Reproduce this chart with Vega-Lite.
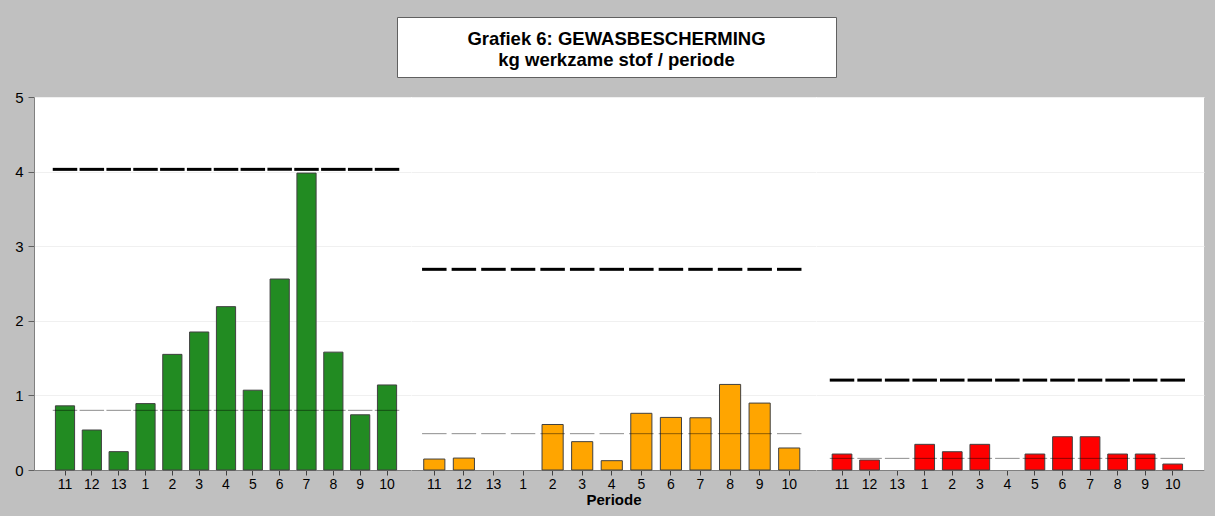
{
  "$schema": "https://vega.github.io/schema/vega-lite/v6.json",
  "background": "#c0c0c0",
  "padding": {"left": 14, "top": 16, "right": 12, "bottom": 9},
  "config": {
    "view": {"stroke": null},
    "font": "Liberation Sans",
    "axis": {"labelFont": "Liberation Sans", "titleFont": "Liberation Sans"}
  },
  "datasets": {
    "groen": [
      {"periode": "11", "waarde": 0.86, "gem": 0.80, "max": 4.03},
      {"periode": "12", "waarde": 0.536, "gem": 0.80, "max": 4.03},
      {"periode": "13", "waarde": 0.246, "gem": 0.80, "max": 4.03},
      {"periode": "1", "waarde": 0.89, "gem": 0.80, "max": 4.03},
      {"periode": "2", "waarde": 1.55, "gem": 0.80, "max": 4.03},
      {"periode": "3", "waarde": 1.85, "gem": 0.80, "max": 4.03},
      {"periode": "4", "waarde": 2.19, "gem": 0.80, "max": 4.03},
      {"periode": "5", "waarde": 1.07, "gem": 0.80, "max": 4.03},
      {"periode": "6", "waarde": 2.56, "gem": 0.80, "max": 4.03},
      {"periode": "7", "waarde": 3.98, "gem": 0.80, "max": 4.03},
      {"periode": "8", "waarde": 1.58, "gem": 0.80, "max": 4.03},
      {"periode": "9", "waarde": 0.74, "gem": 0.80, "max": 4.03},
      {"periode": "10", "waarde": 1.14, "gem": 0.80, "max": 4.03}
    ],
    "oranje": [
      {"periode": "11", "waarde": 0.147, "gem": 0.487, "max": 2.69},
      {"periode": "12", "waarde": 0.16, "gem": 0.487, "max": 2.69},
      {"periode": "13", "waarde": 0, "gem": 0.487, "max": 2.69},
      {"periode": "1", "waarde": 0, "gem": 0.487, "max": 2.69},
      {"periode": "2", "waarde": 0.61, "gem": 0.487, "max": 2.69},
      {"periode": "3", "waarde": 0.38, "gem": 0.487, "max": 2.69},
      {"periode": "4", "waarde": 0.125, "gem": 0.487, "max": 2.69},
      {"periode": "5", "waarde": 0.76, "gem": 0.487, "max": 2.69},
      {"periode": "6", "waarde": 0.705, "gem": 0.487, "max": 2.69},
      {"periode": "7", "waarde": 0.70, "gem": 0.487, "max": 2.69},
      {"periode": "8", "waarde": 1.147, "gem": 0.487, "max": 2.69},
      {"periode": "9", "waarde": 0.897, "gem": 0.487, "max": 2.69},
      {"periode": "10", "waarde": 0.295, "gem": 0.487, "max": 2.69}
    ],
    "rood": [
      {"periode": "11", "waarde": 0.214, "gem": 0.156, "max": 1.205},
      {"periode": "12", "waarde": 0.134, "gem": 0.156, "max": 1.205},
      {"periode": "13", "waarde": 0, "gem": 0.156, "max": 1.205},
      {"periode": "1", "waarde": 0.344, "gem": 0.156, "max": 1.205},
      {"periode": "2", "waarde": 0.245, "gem": 0.156, "max": 1.205},
      {"periode": "3", "waarde": 0.344, "gem": 0.156, "max": 1.205},
      {"periode": "4", "waarde": 0, "gem": 0.156, "max": 1.205},
      {"periode": "5", "waarde": 0.214, "gem": 0.156, "max": 1.205},
      {"periode": "6", "waarde": 0.446, "gem": 0.156, "max": 1.205},
      {"periode": "7", "waarde": 0.446, "gem": 0.156, "max": 1.205},
      {"periode": "8", "waarde": 0.214, "gem": 0.156, "max": 1.205},
      {"periode": "9", "waarde": 0.214, "gem": 0.156, "max": 1.205},
      {"periode": "10", "waarde": 0.08, "gem": 0.156, "max": 1.205}
    ]
  },
  "spacing": 12,
  "vconcat": [
    {
      "spacing": 0,
      "bounds": "flush",
      "hconcat": [
        {
          "width": 363,
          "height": 60,
          "data": {"values": []},
          "mark": {"type": "point"}
        },
        {
          "width": 439,
          "height": 60,
          "view": {"fill": "white", "stroke": "#606060", "strokeWidth": 1},
          "data": {"values": [{}]},
          "mark": {"type": "text", "font": "Liberation Sans", "fontSize": 18.5, "fontWeight": "bold", "lineHeight": 21.7, "color": "black", "baseline": "middle", "align": "center", "dy": -8.5},
          "encoding": {"text": {"value": ["Grafiek 6: GEWASBESCHERMING", "kg werkzame stof / periode"]}}
        }
      ]
    },
    {
      "spacing": 0,
      "bounds": "flush",
      "hconcat": [
        {
          "width": 377,
          "height": 373,
          "view": {"fill": "white", "stroke": null},
          "data": {"name": "groen"},
          "encoding": {
            "x": {
              "field": "periode", "type": "ordinal",
              "scale": {"domain": ["11","12","13","1","2","3","4","5","6","7","8","9","10"], "paddingInner": 0.285, "paddingOuter": 0.667, "align": 0.598},
              "axis": {"title": null, "labelAngle": 0, "labelFontSize": 14, "labelColor": "black", "tickColor": "#404040", "tickSize": 5, "domainColor": "#808080", "labelPadding": 2}
            }
          },
          "layer": [
            {
              "transform": [{"filter": "datum.waarde > 0"}],
              "mark": {"type": "bar", "fill": "#228B22", "stroke": "#404040", "strokeWidth": 1},
              "encoding": {
                "y": {
                  "field": "waarde", "type": "quantitative",
                  "scale": {"domain": [0, 5]},
                  "axis": {
                    "title": null,
                    "values": [0, 0.5, 1, 1.5, 2, 2.5, 3, 3.5, 4, 4.5, 5],
                    "labelExpr": "datum.value % 1 === 0 ? format(datum.value, 'd') : ''",
                    "labelFontSize": 15, "labelColor": "black", "labelPadding": 5,
                    "tickSize": {"condition": {"test": "datum.value % 1 === 0", "value": 6}, "value": 3},
                    "tickColor": "#606060", "domainColor": "#808080",
                    "grid": true, "gridColor": "#f0f0f0"
                  }
                }
              }
            },
            {
              "mark": {"type": "tick", "color": "black", "opacity": 0.45, "thickness": 1, "size": 24.5},
              "encoding": {"y": {"field": "gem", "type": "quantitative", "scale": {"domain": [0, 5]}}}
            },
            {
              "mark": {"type": "tick", "color": "black", "opacity": 1, "thickness": 3, "size": 24.5},
              "encoding": {"y": {"field": "max", "type": "quantitative", "scale": {"domain": [0, 5]}}}
            }
          ]
        },
        {
          "width": 405,
          "height": 373,
          "view": {"fill": "white", "stroke": null},
          "data": {"name": "oranje"},
          "encoding": {
            "x": {
              "field": "periode", "type": "ordinal",
              "scale": {"domain": ["11","12","13","1","2","3","4","5","6","7","8","9","10"], "paddingInner": 0.285, "paddingOuter": 0.489, "align": 0.44},
              "axis": {"title": "Periode", "titleFontSize": 15, "titleFontWeight": "bold", "titleColor": "black", "titlePadding": 1, "labelAngle": 0, "labelFontSize": 14, "labelColor": "black", "tickColor": "#404040", "tickSize": 5, "domainColor": "#808080", "labelPadding": 2}
            }
          },
          "layer": [
            {
              "transform": [{"filter": "datum.waarde > 0"}],
              "mark": {"type": "bar", "fill": "#FFA500", "stroke": "#404040", "strokeWidth": 1},
              "encoding": {
                "y": {
                  "field": "waarde", "type": "quantitative",
                  "scale": {"domain": [0, 5]},
                  "axis": {"title": null, "labels": false, "ticks": false, "domain": false, "grid": true, "gridColor": "#f0f0f0", "values": [0, 0.5, 1, 1.5, 2, 2.5, 3, 3.5, 4, 4.5, 5]}
                }
              }
            },
            {
              "mark": {"type": "tick", "color": "black", "opacity": 0.45, "thickness": 1, "size": 24.5},
              "encoding": {"y": {"field": "gem", "type": "quantitative", "scale": {"domain": [0, 5]}}}
            },
            {
              "mark": {"type": "tick", "color": "black", "opacity": 1, "thickness": 3, "size": 24.5},
              "encoding": {"y": {"field": "max", "type": "quantitative", "scale": {"domain": [0, 5]}}}
            }
          ]
        },
        {
          "width": 388,
          "height": 373,
          "view": {"fill": "white", "stroke": null},
          "data": {"name": "rood"},
          "encoding": {
            "x": {
              "field": "periode", "type": "ordinal",
              "scale": {"domain": ["11","12","13","1","2","3","4","5","6","7","8","9","10"], "paddingInner": 0.285, "paddingOuter": 0.682, "align": 0.43},
              "axis": {"title": null, "labelAngle": 0, "labelFontSize": 14, "labelColor": "black", "tickColor": "#404040", "tickSize": 5, "domainColor": "#808080", "labelPadding": 2}
            }
          },
          "layer": [
            {
              "transform": [{"filter": "datum.waarde > 0"}],
              "mark": {"type": "bar", "fill": "#FF0000", "stroke": "#404040", "strokeWidth": 1},
              "encoding": {
                "y": {
                  "field": "waarde", "type": "quantitative",
                  "scale": {"domain": [0, 5]},
                  "axis": {"title": null, "labels": false, "ticks": false, "domain": false, "grid": true, "gridColor": "#f0f0f0", "values": [0, 0.5, 1, 1.5, 2, 2.5, 3, 3.5, 4, 4.5, 5]}
                }
              }
            },
            {
              "mark": {"type": "tick", "color": "black", "opacity": 0.45, "thickness": 1, "size": 24.5},
              "encoding": {"y": {"field": "gem", "type": "quantitative", "scale": {"domain": [0, 5]}}}
            },
            {
              "mark": {"type": "tick", "color": "black", "opacity": 1, "thickness": 3, "size": 24.5},
              "encoding": {"y": {"field": "max", "type": "quantitative", "scale": {"domain": [0, 5]}}}
            }
          ]
        }
      ]
    }
  ]
}
